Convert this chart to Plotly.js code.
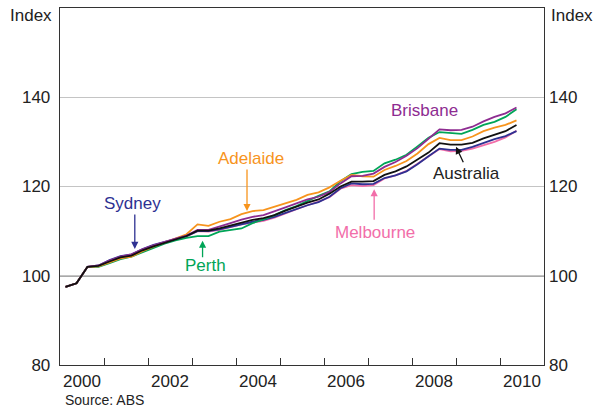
<!DOCTYPE html>
<html>
<head>
<meta charset="utf-8">
<script src="https://cdn.plot.ly/plotly-3.0.1.min.js"></script>
<style>
html,body{margin:0;padding:0;background:#fff;}
#chart{width:607px;height:408px;}
</style>
</head>
<body>
<div id="chart"></div>
<script>
// Quarterly index, March quarter 2000 to June quarter 2010
const startYear = 2000;
const australia = [97.5,98.3,102.0,102.2,103.2,104.1,104.5,105.7,106.6,107.4,108.1,108.9,110.1,110.1,110.6,111.2,111.9,112.5,112.9,113.6,114.6,115.5,116.4,117.1,118.4,120.0,121.1,121.1,121.2,122.6,123.4,124.5,126.0,127.6,129.7,129.4,129.4,129.8,130.8,131.6,132.4,133.8];
const brisbane  = [97.5,98.3,102.0,102.3,103.4,104.3,104.8,105.9,106.8,107.6,108.3,109.0,110.3,110.3,111.0,111.8,112.6,113.2,113.6,114.4,115.3,116.2,117.1,117.7,118.8,120.7,122.3,122.4,122.9,124.4,125.5,126.9,128.6,130.7,132.8,132.6,132.7,133.4,134.6,135.6,136.4,137.7];
const perth     = [97.5,98.3,102.0,102.0,102.8,103.7,104.3,105.3,106.3,107.2,107.9,108.5,108.9,108.9,109.9,110.3,110.6,111.8,112.6,113.6,114.7,115.6,116.8,117.9,118.9,121.2,122.8,123.3,123.5,125.2,126.0,127.1,129.0,130.9,132.2,132.0,131.8,132.7,133.8,134.5,135.6,137.3];
const adelaide  = [97.5,98.3,102.0,102.1,103.0,103.9,104.3,105.5,106.5,107.4,108.3,109.3,111.5,111.2,112.1,112.7,113.8,114.5,114.7,115.5,116.2,117.0,118.1,118.7,119.8,121.3,122.6,122.3,122.2,123.7,124.6,125.7,127.4,129.5,130.9,130.4,130.4,131.2,132.4,133.2,133.8,134.8];
const sydney    = [97.5,98.3,102.0,102.3,103.5,104.4,104.8,106.0,106.9,107.6,108.2,108.9,110.0,110.0,110.4,111.0,111.6,112.1,112.5,113.2,114.1,115.0,115.8,116.5,117.7,119.6,120.7,120.5,120.6,121.9,122.5,123.4,125.0,126.8,128.5,128.2,128.2,128.9,129.8,130.6,131.3,132.4];
const melbourne = [97.5,98.3,102.0,102.1,103.2,104.0,104.4,105.6,106.5,107.3,108.0,108.8,110.0,109.9,110.3,110.9,111.5,111.9,112.3,113.0,114.0,114.9,115.8,116.6,117.6,119.5,120.3,120.1,120.3,121.8,122.5,123.5,125.1,126.7,128.4,127.9,128.0,128.5,129.3,130.0,131.0,132.5];
const yearLabels = ['2000','2002','2004','2006','2008','2010'];
const yTicks = [80,100,120,140];

const xq = australia.map((_, i) => startYear + (i + 0.5) / 4);
const labelVals = yearLabels.map(y => +y + 0.5);
const minorVals = [];
for (let y = 2001; y <= 2010; y++) minorVals.push(y);

const FONT = 'Arial, "Liberation Sans", sans-serif';
const C = {mel:'#F26EA9', syd:'#2E3192', per:'#00A557', ade:'#F7941D', bri:'#8E2C91', aus:'#111111'};

function line(y, color, name){
  return {x:xq, y:y, type:'scatter', mode:'lines', name:name,
          line:{color:color, width:1.8}, hoverinfo:'skip'};
}
const data = [
  line(melbourne, C.mel, 'Melbourne'),
  line(sydney, C.syd, 'Sydney'),
  line(perth, C.per, 'Perth'),
  line(adelaide, C.ade, 'Adelaide'),
  line(brisbane, C.bri, 'Brisbane'),
  line(australia, C.aus, 'Australia'),
  {x:[], y:[], xaxis:'x', yaxis:'y2', type:'scatter', mode:'lines', showlegend:false}
];

function arrow(x, y, ax, ay, color){
  return {x:x, y:y, xref:'x', yref:'y', text:'', showarrow:true, ax:ax, ay:ay,
          arrowhead:2, arrowsize:1.1, arrowwidth:1.3, arrowcolor:color, standoff:0};
}
function label(x, y, t, color){
  return {x:x, y:y, xref:'x', yref:'y', text:t, showarrow:false,
          font:{family:FONT, size:17, color:color}, xanchor:'center', yanchor:'middle'};
}

const layout = {
  width:607, height:408,
  margin:{l:60, r:63, t:8, b:43},
  paper_bgcolor:'#fff', plot_bgcolor:'#fff',
  showlegend:false,
  font:{family:FONT, size:17, color:'#222'},
  xaxis:{
    range:[2000, 2011], tickmode:'array', tickvals:labelVals, ticktext:yearLabels,
    ticks:'', showgrid:false, zeroline:false,
    showline:true, mirror:true, linecolor:'#333', linewidth:1.3,
    ticklabelstandoff:0,
    tickfont:{family:FONT, size:17, color:'#222'},
    minor:{tickmode:'array', tickvals:minorVals, ticks:'inside', ticklen:7, tickcolor:'#333', tickwidth:1, showgrid:false}
  },
  yaxis:{
    range:[80, 160], tickmode:'array', tickvals:yTicks, ticks:'',
    showgrid:true, gridcolor:'#c4c4c4', gridwidth:1, zeroline:false,
    showline:true, mirror:true, linecolor:'#333', linewidth:1.3,
    ticklabelstandoff:5,
    tickfont:{family:FONT, size:17, color:'#222'}
  },
  yaxis2:{
    range:[80, 160], overlaying:'y', side:'right', anchor:'x',
    tickmode:'array', tickvals:yTicks, ticks:'', showgrid:false, zeroline:false,
    showline:false, ticklabelstandoff:4,
    tickfont:{family:FONT, size:17, color:'#222'}
  },
  shapes:[
    {type:'line', xref:'paper', yref:'y', x0:0, x1:1, y0:100, y1:100,
     line:{color:'#555', width:1.6}, layer:'below'}
  ],
  annotations:[
    {xref:'paper', yref:'paper', x:-0.013, y:0.978, text:'Index', showarrow:false,
     xanchor:'right', yanchor:'middle', font:{family:FONT, size:17, color:'#222'}},
    {xref:'paper', yref:'paper', x:1.011, y:0.978, text:'Index', showarrow:false,
     xanchor:'left', yanchor:'middle', font:{family:FONT, size:17, color:'#222'}},
    {xref:'paper', yref:'paper', x:0.006, y:-0.099, text:'Source: ABS', showarrow:false,
     xanchor:'left', yanchor:'middle', font:{family:FONT, size:14, color:'#222'}},
    arrow(2001.70, 106.0, 0, -36, C.syd),
    label(2001.64, 116.3, 'Sydney', C.syd),
    arrow(2003.24, 107.85, 0, 18, C.per),
    label(2003.30, 102.4, 'Perth', C.per),
    arrow(2004.25, 114.5, 0, -43, C.ade),
    label(2004.33, 126.3, 'Adelaide', C.ade),
    arrow(2007.14, 119.4, 0, 32, C.mel),
    label(2007.16, 109.6, 'Melbourne', C.mel),
    label(2008.28, 137.1, 'Brisbane', C.bri),
    arrow(2009.0, 128.9, 8, 17, C.aus),
    label(2009.23, 122.9, 'Australia', '#222')
  ]
};

Plotly.newPlot('chart', data, layout, {staticPlot:true, displayModeBar:false});
</script>
</body>
</html>
